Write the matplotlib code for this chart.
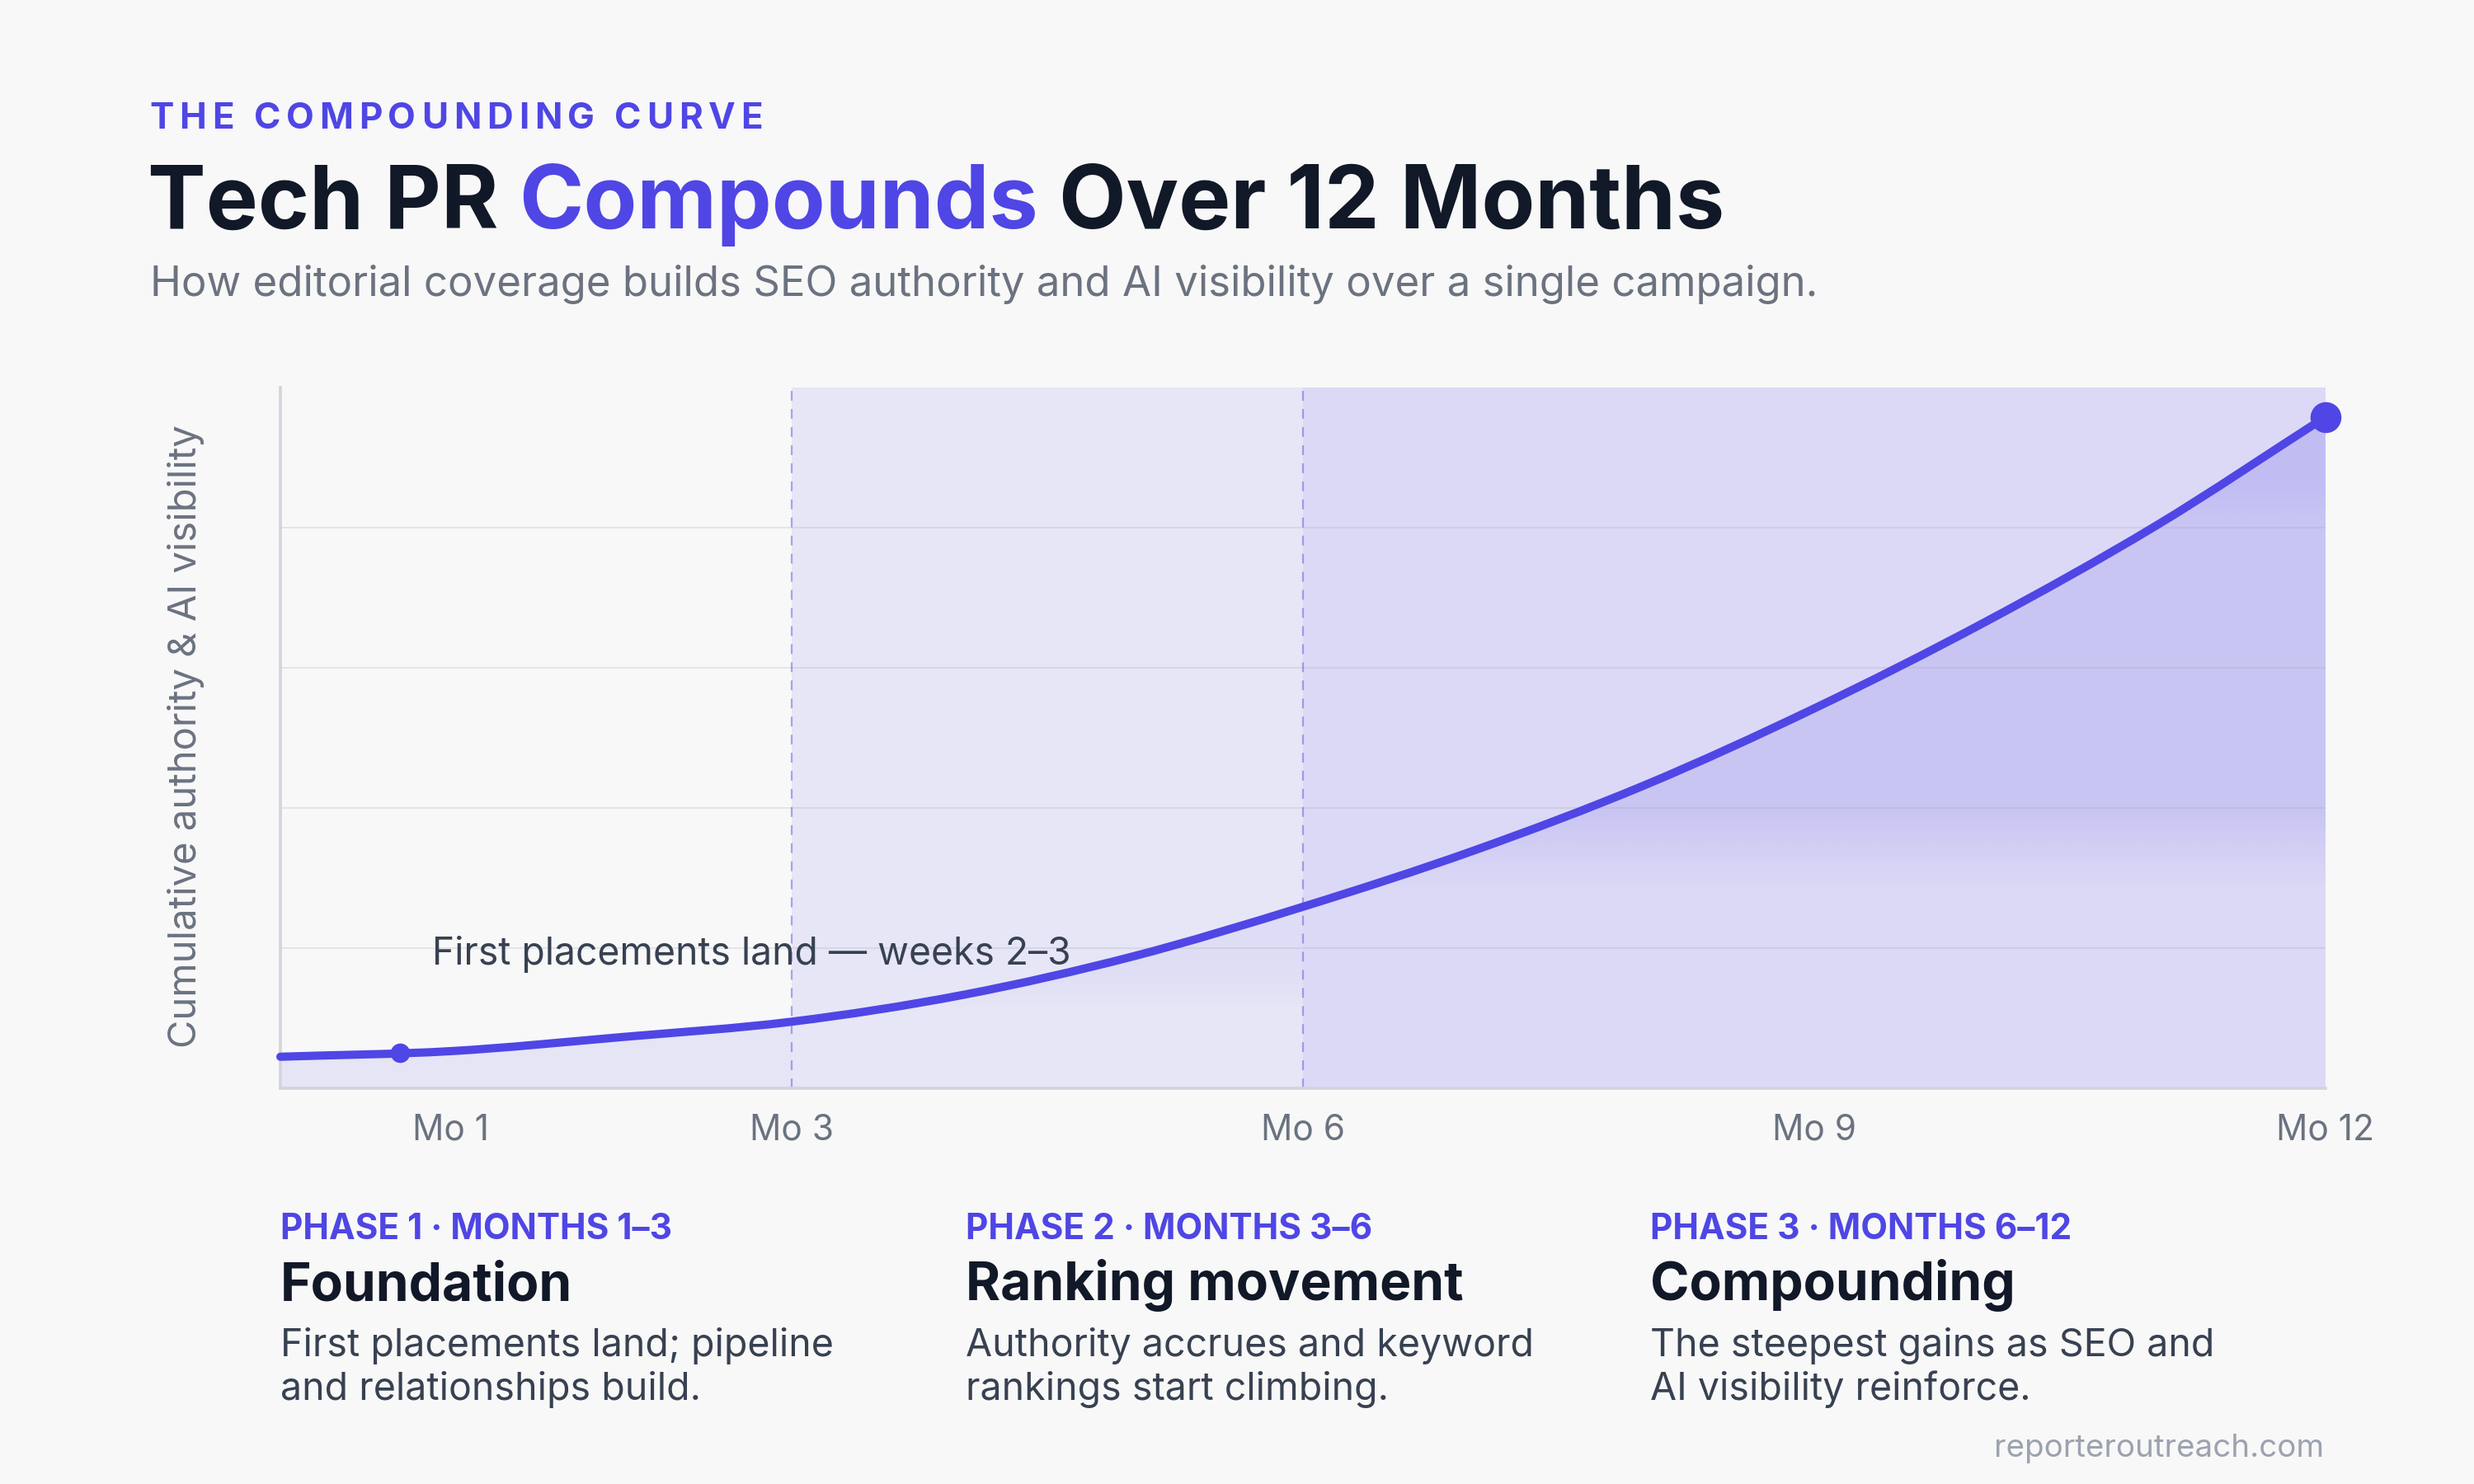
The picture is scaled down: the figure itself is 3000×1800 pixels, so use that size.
import numpy as np
import matplotlib
matplotlib.use("Agg")
import matplotlib.pyplot as plt
from matplotlib.colors import to_rgb
from matplotlib.path import Path
from matplotlib.patches import PathPatch

# ---------------- data ----------------
months = [0, 1, 2, 3, 4, 5, 6, 7, 8, 9, 10, 11, 12]
authority = [4.5, 5.3, 7.3, 9.5, 13.3, 18.8, 25.9, 33.9, 43.2, 54.2, 66.5, 80.2, 95.8]
first_placement_month = 0.7
tick_months = [1, 3, 6, 9, 12]
tick_labels = ["Mo 1", "Mo 3", "Mo 6", "Mo 9", "Mo 12"]
phase_bounds = [0, 3, 6, 12]
phase_tags = ["PHASE 1 · MONTHS 1–3", "PHASE 2 · MONTHS 3–6", "PHASE 3 · MONTHS 6–12"]
phase_names = ["Foundation", "Ranking movement", "Compounding"]
phase_desc = [["First placements land; pipeline", "and relationships build."],
              ["Authority accrues and keyword", "rankings start climbing."],
              ["The steepest gains as SEO and", "AI visibility reinforce."]]
eyebrow = "THE COMPOUNDING CURVE"
title_parts = ["Tech PR", "Compounds", "Over 12 Months"]
subtitle = "How editorial coverage builds SEO authority and AI visibility over a single campaign."
annotation = "First placements land — weeks 2–3"
ylabel = "Cumulative authority & AI visibility"
footer = "reporteroutreach.com"

# ---------------- style ----------------
ACCENT = "#4F46E5"
DARK = "#111827"
BODY = "#374151"
GRAY = "#6B7280"
LIGHT = "#9CA3AF"
BG = "#F8F8F8"
FONT = ["Inter", "DejaVu Sans"]
plt.rcParams["font.family"] = FONT
plt.rcParams["lines.scale_dashes"] = False

W, H = 3000, 1800
DPI = 200
fig = plt.figure(figsize=(W / DPI, H / DPI), dpi=DPI, facecolor=BG)
renderer = fig.canvas.get_renderer()


def ftext(x, y, s, **kw):
    return fig.text(x / W, 1 - y / H, s, **kw)


def width(t):
    return t.get_window_extent(renderer).width


def fitted_size(s, target, base=15.0, **kw):
    t = ftext(0, -500, s, fontsize=base, **kw)
    size = base * target / width(t)
    t.remove()
    return size


# ---------------- axes ----------------
ax_left, ax_right, ax_top, ax_bottom = 340, 2820, 470, 1320
ax = fig.add_axes([ax_left / W, 1 - ax_bottom / H, (ax_right - ax_left) / W, (ax_bottom - ax_top) / H])
ax.set_facecolor(BG)

band_colors = [None, "#E7E6F6", "#DCD9F6"]
for i in range(3):
    if band_colors[i]:
        ax.axvspan(phase_bounds[i], phase_bounds[i + 1], color=band_colors[i], lw=0, zorder=0)

m = np.array(months, dtype=float)
v = np.array(authority, dtype=float)
crgb = to_rgb(ACCENT)

# smooth rendering of the series (Catmull-Rom as cubic Bezier segments)
P = np.column_stack([m, v])
Pext = np.vstack([P[0] - (P[1] - P[0]), P, P[-1] + (P[-1] - P[-2])])
verts = [tuple(P[0])]
codes = [Path.MOVETO]
for i in range(len(P) - 1):
    p0, p1, p2, p3 = Pext[i], Pext[i + 1], Pext[i + 2], Pext[i + 3]
    c1 = p1 + (p2 - p0) / 6.0
    c2 = p2 - (p3 - p1) / 6.0
    verts += [tuple(c1), tuple(c2), tuple(p2)]
    codes += [Path.CURVE4] * 3
curve_path = Path(verts, codes)
area_path = Path(verts + [(m[-1], 0), (m[0], 0), (m[0], 0)],
                 codes + [Path.LINETO, Path.LINETO, Path.CLOSEPOLY])

# fill under curve, per phase (vertical gradients)
alpha_profiles = [([0, 1.0], [0.105, 0.105]),
                  ([0, 0.42, 0.62, 1.0], [0, 0, 0.05, 0.06]),
                  ([0, 0.29, 0.40, 0.82, 0.88, 1.0], [0, 0, 0.13, 0.13, 0.19, 0.19])]
for i in range(3):
    x0, x1 = phase_bounds[i], phase_bounds[i + 1]
    sel = (m >= x0) & (m <= x1)
    ytop = v[sel].max() * 1.02
    ny = 600
    yy = np.linspace(0, ytop, ny)
    tp, ap = alpha_profiles[i]
    img = np.zeros((ny, 2, 4))
    img[..., 0], img[..., 1], img[..., 2] = crgb
    img[:, :, 3] = np.interp(yy / ytop, tp, ap)[:, None]
    im = ax.imshow(img, extent=(x0, x1, 0, ytop), origin="lower", aspect="auto",
                   interpolation="bilinear", zorder=1)
    im.set_clip_path(area_path, transform=ax.transData)

# gridlines
for gy in [20, 40, 60, 80]:
    ax.axhline(gy, color="#9CA3AF", alpha=0.22, lw=0.75, zorder=2)

# phase dividers
for bx in phase_bounds[1:-1]:
    ax.axvline(bx, color=ACCENT, alpha=0.45, lw=0.8, linestyle=(0, (4.3, 3.6)), zorder=2)

# curve + markers
line = PathPatch(curve_path, fill=False, edgecolor=ACCENT, lw=3.6, capstyle="round",
                 joinstyle="round", zorder=4, clip_on=False)
ax.add_patch(line)
ax.plot([first_placement_month], [np.interp(first_placement_month, m, v)], "o", ms=8.5,
        color=ACCENT, mew=0, zorder=5, clip_on=False)
ax.plot([m[-1]], [v[-1]], "o", ms=13.5, color=ACCENT, mew=0, zorder=5, clip_on=False)

ax.set_xlim(0, 12)
ax.set_ylim(0, 100)
for s in ["top", "right"]:
    ax.spines[s].set_visible(False)
for s in ["left", "bottom"]:
    ax.spines[s].set_color("#D1D5DB")
    ax.spines[s].set_linewidth(1.3)
    ax.spines[s].set_zorder(3)
ax.set_yticks([])
ax.set_xticks(tick_months, tick_labels)
ax.tick_params(axis="x", length=0, pad=11, labelsize=15.3, labelcolor=GRAY)

# annotation in data coordinates
ann_size = fitted_size(annotation, 775)
ax.text((524 - ax_left) / ((ax_right - ax_left) / 12), (ax_bottom - 1170) / ((ax_bottom - ax_top) / 100),
        annotation, fontsize=ann_size, color=BODY, va="baseline", ha="left", zorder=6)

# y label
yl_size = fitted_size(ylabel, 757)
ftext(226, 893, ylabel, rotation=90, ha="center", va="center", fontsize=yl_size, color=GRAY)

# ---------------- header ----------------
eb_size = 15.8
probe = ftext(0, -500, eyebrow, fontsize=eb_size, fontweight="bold")
natural = width(probe)
xref = ftext(0, -500, "x", fontsize=eb_size, fontweight="bold")
wx = width(xref)
n = len(eyebrow)
sp = (744 - natural) / (n - 1)
x0 = 181
for i, ch in enumerate(eyebrow):
    if i == 0:
        adv = 0
    else:
        pr = ftext(0, -500, eyebrow[:i] + "x", fontsize=eb_size, fontweight="bold")
        adv = width(pr) - wx
        pr.remove()
    if ch != " ":
        ftext(x0 + adv + i * sp, 156, ch, fontsize=eb_size, fontweight="bold", color=ACCENT,
              ha="left", va="baseline")
probe.remove()
xref.remove()

# title
t_size = 36
pieces = [ftext(0, -500, p, fontsize=t_size, fontweight="bold") for p in title_parts]
sp_probe1 = ftext(0, -500, "T T", fontsize=t_size, fontweight="bold")
sp_probe2 = ftext(0, -500, "TT", fontsize=t_size, fontweight="bold")
gap = width(sp_probe1) - width(sp_probe2)
total = sum(width(p) for p in pieces) + 2 * gap
scale = 1913 / total
for p in pieces + [sp_probe1, sp_probe2]:
    p.remove()
t_size *= scale
gap *= scale
x = 179
for p, col in zip(title_parts, [DARK, ACCENT, DARK]):
    t = ftext(x, 277, p, fontsize=t_size, fontweight="bold", color=col, ha="left", va="baseline")
    x += width(t) + gap

st_size = fitted_size(subtitle, 2024)
ftext(182, 359, subtitle, fontsize=st_size, color=GRAY, ha="left", va="baseline")

# ---------------- phase notes ----------------
phase_x = [340, 1171, 2001]
tag_w = [474, 494, 511]
name_w = [352, 608, 444]
desc_w = [681, 689, 673]
tag_size = np.mean([fitted_size(s, w, fontweight="bold") for s, w in zip(phase_tags, tag_w)])
name_size = np.mean([fitted_size(s, w, fontweight="bold") for s, w in zip(phase_names, name_w)])
desc_size = np.mean([fitted_size(d[0], w) for d, w in zip(phase_desc, desc_w)])
for i in range(3):
    px = phase_x[i]
    ftext(px, 1503, phase_tags[i], fontsize=tag_size, fontweight="bold", color=ACCENT, ha="left", va="baseline")
    ftext(px, 1577, phase_names[i], fontsize=name_size, fontweight="bold", color=DARK, ha="left", va="baseline")
    for j, ln in enumerate(phase_desc[i]):
        ftext(px, 1645 + j * 53, ln, fontsize=desc_size, color=BODY, ha="left", va="baseline")

ft_size = fitted_size(footer, 400)
ftext(2818, 1767, footer, fontsize=ft_size, color=LIGHT, ha="right", va="baseline")

fig.savefig("out.png", dpi=DPI, facecolor=BG)
